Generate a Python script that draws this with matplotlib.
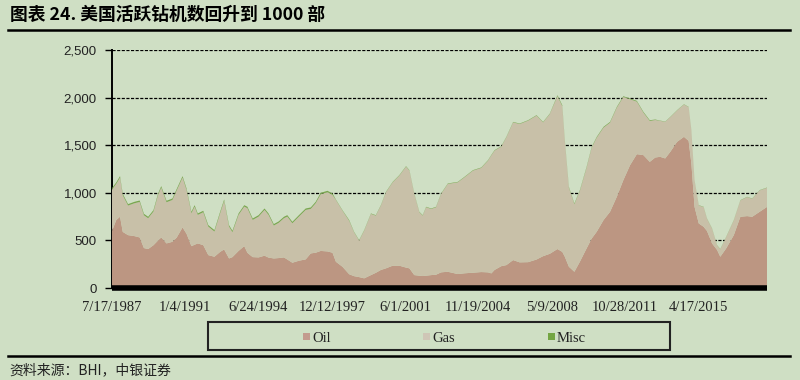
import matplotlib
matplotlib.use("Agg")
import matplotlib.pyplot as plt
import matplotlib.patches as mpatches
import matplotlib.lines as mlines
import numpy as np
import pandas as pd

# ---- data ----
years = [1987.54, 1987.74, 1987.92, 1988.05, 1988.30, 1988.60, 1988.85, 1989.05, 1989.25, 1989.50,
         1989.72, 1989.87, 1990.12, 1990.40, 1990.60, 1990.88, 1991.07, 1991.30, 1991.45, 1991.60,
         1991.86, 1992.10, 1992.39, 1992.66, 1992.85, 1993.08, 1993.24, 1993.53, 1993.80, 1993.95,
         1994.20, 1994.48, 1994.76, 1994.95, 1995.20, 1995.43, 1995.68, 1995.84, 1996.08, 1996.39,
         1996.71, 1996.95, 1997.18, 1997.42, 1997.74, 1997.98, 1998.14, 1998.45, 1998.77, 1999.00,
         1999.24, 1999.48, 1999.80, 2000.03, 2000.27, 2000.51, 2000.83, 2001.14, 2001.46, 2001.62,
         2001.85, 2002.09, 2002.25, 2002.41, 2002.65, 2002.88, 2003.12, 2003.44, 2003.91, 2004.23,
         2004.63, 2005.02, 2005.34, 2005.50, 2005.65, 2005.97, 2006.21, 2006.53, 2006.84, 2007.24,
         2007.64, 2007.95, 2008.27, 2008.63, 2008.86, 2008.98, 2009.17, 2009.43, 2009.69, 2010.01,
         2010.25, 2010.49, 2010.81, 2011.12, 2011.44, 2011.75, 2012.07, 2012.39, 2012.70, 2013.00,
         2013.26, 2013.49, 2013.73, 2013.97, 2014.29, 2014.62, 2014.84, 2014.97, 2015.12, 2015.32,
         2015.55, 2015.71, 2015.95, 2016.19, 2016.34, 2016.62, 2016.98, 2017.29, 2017.61, 2017.85,
         2018.20, 2018.56]

oil = [600, 714, 750, 590, 556, 546, 532, 420, 410, 450,
       500, 532, 469, 486, 530, 637, 570, 440, 455, 469,
       451, 346, 329, 380, 406, 311, 325, 390, 441, 370,
       325, 322, 340, 320, 311, 315, 322, 300, 266, 287,
       301, 364, 371, 390, 385, 371, 276, 224, 145, 125,
       115, 102, 136, 160, 190, 207, 235, 235, 215, 207,
       136, 130, 126, 130, 136, 140, 165, 171, 147, 155,
       161, 168, 165, 154, 190, 230, 241, 294, 270, 272,
       300, 335, 360, 410, 380, 329, 224, 171, 276, 417,
       520, 592, 714, 801, 959, 1134, 1292, 1407, 1397, 1326,
       1372, 1379, 1362, 1431, 1536, 1589, 1547, 1309, 854, 679,
       644, 600, 469, 400, 329, 417, 556, 749, 756, 749,
       801, 854]

gas = [435, 381, 411, 385, 311, 345, 373, 345, 324, 354,
       479, 524, 433, 440, 495, 524, 461, 346, 401, 300,
       346, 300, 265, 406, 510, 335, 262, 379, 415, 469,
       391, 429, 481, 449, 346, 370, 412, 451, 415, 464,
       520, 468, 520, 596, 622, 608, 649, 590, 561, 462,
       384, 502, 643, 601, 676, 799, 876, 946, 1061, 1027,
       853, 666, 635, 719, 695, 709, 824, 923, 964, 1009,
       1073, 1094, 1174, 1241, 1254, 1256, 1343, 1447, 1454, 1487,
       1512, 1406, 1469, 1607, 1532, 1217, 832, 710, 745, 849,
       956, 989, 972, 937, 937, 874, 692, 552, 447, 430,
       394, 378, 385, 365, 330, 340, 354, 347, 277, 189,
       207, 128, 155, 48, 78, 119, 155, 172, 200, 189,
       225, 200]

misc = [15, 15, 15, 15, 15, 15, 15, 15, 15, 15,
        15, 15, 15, 15, 15, 15, 15, 15, 15, 15,
        15, 15, 15, 15, 15, 15, 15, 15, 15, 15,
        15, 15, 15, 15, 15, 15, 15, 15, 15, 15,
        15, 15, 15, 15, 15, 15, 5, 5, 8, 5,
        5, 5, 5, 5, 5, 5, 5, 5, 5, 5,
        5, 5, 5, 5, 5, 5, 5, 5, 5, 5,
        5, 5, 5, 5, 5, 5, 5, 5, 5, 5,
        5, 5, 5, 10, 10, 8, 8, 8, 8, 8,
        8, 8, 8, 8, 8, 8, 8, 8, 8, 8,
        5, 3, 3, 3, 3, 3, 3, 3, 3, 3,
        3, 3, 3, 3, 3, 3, 3, 3, 3, 3,
        3, 3]

x_tick_labels = ['7/17/1987', '1/4/1991', '6/24/1994', '12/12/1997', '6/1/2001',
                 '11/19/2004', '5/9/2008', '10/28/2011', '4/17/2015']
y_ticks = [0, 500, 1000, 1500, 2000, 2500]
series_names = ['Oil', 'Gas', 'Misc']

# ---- style ----
BG = '#cfdfc4'
C_OIL = '#bc9682'
C_GAS = '#c8c0a8'
C_MISC = '#7aa650'
L_OIL = '#c39b8e'
L_GAS = '#cfc6b6'
L_MISC = '#73a542'

plt.rcParams['font.family'] = ['Noto Sans CJK SC', 'DejaVu Sans']

def to_dt(y):
    yi = int(np.floor(y))
    return pd.Timestamp(year=yi, month=1, day=1) + pd.Timedelta(days=(y - yi) * 365.25)

dates = [to_dt(y) for y in years]

fig = plt.figure(figsize=(8, 3.8), dpi=100, facecolor=BG)
ax = fig.add_axes([0.14, 0.242, 0.819, 0.626])
ax.set_facecolor(BG)

ax.stackplot(dates, oil, gas, misc, colors=[C_OIL, C_GAS, C_MISC],
             linewidth=0, zorder=3)

ax.set_ylim(0, 2500)
x0 = pd.Timestamp('1987-07-17')
x1 = to_dt(2018.56)
ax.set_xlim(x0, x1)

ax.set_yticks(y_ticks)
ax.set_yticklabels([f'{v:,}' for v in y_ticks], fontsize=9.5,
                   family=['Liberation Sans', 'DejaVu Sans'], color='#222222')
for v in y_ticks[1:]:
    ax.axhline(v, color='black', lw=0.9, ls=(0, (2.5, 1.2)), zorder=1)

ticks = pd.to_datetime(x_tick_labels, format='%m/%d/%Y')
ax.set_xticks(ticks)
ax.set_xticklabels(x_tick_labels, fontsize=10.5,
                   family=['Liberation Serif', 'DejaVu Serif'], color='#222222')
ax.tick_params(axis='x', length=0, pad=9)
ax.tick_params(axis='y', length=5, width=1, color='black', pad=6, direction='out')

for s in ['top', 'right', 'bottom']:
    ax.spines[s].set_visible(False)
ax.spines['left'].set_linewidth(1.4)
ax.spines['left'].set_color('black')
ax.plot([x0, x1], [0, 0], color='black', lw=4, solid_capstyle='butt',
        zorder=5, clip_on=False)

# ---- title and rules ----
fig.text(0.012, 0.962, '图表 24. 美国活跃钻机数回升到 1000 部', fontsize=12.8,
         fontweight='bold', ha='left', va='center', color='black')
fig.add_artist(mlines.Line2D([0.01, 0.988], [0.921, 0.921], color='black', lw=1.8))
fig.add_artist(mlines.Line2D([0.01, 0.988], [0.063, 0.063], color='black', lw=1.8))
fig.text(0.012, 0.025, '资料来源：BHI，中银证券', fontsize=10, style='italic',
         ha='left', va='center', color='#222222')

# ---- legend ----
lx, ly, lw_, lh = 208 / 800, 1 - 350 / 380, 462 / 800, 28 / 380
fig.add_artist(mpatches.Rectangle((lx, ly), lw_, lh, transform=fig.transFigure,
                                  facecolor='none', edgecolor='#222222', lw=1.5))
leg_x = [303, 423, 548]
leg_c = [L_OIL, L_GAS, L_MISC]
for xp, c, name in zip(leg_x, leg_c, series_names):
    fig.add_artist(mpatches.Rectangle((xp / 800, 1 - 340 / 380), 7 / 800, 7 / 380,
                                      transform=fig.transFigure, facecolor=c,
                                      edgecolor='none'))
    fig.text((xp + 9) / 800, 1 - 338 / 380, name, fontsize=10.5,
             family=['Liberation Serif', 'DejaVu Serif'], ha='left', va='center',
             color='#222222')

fig.savefig('out.png', dpi=100, facecolor=BG)
